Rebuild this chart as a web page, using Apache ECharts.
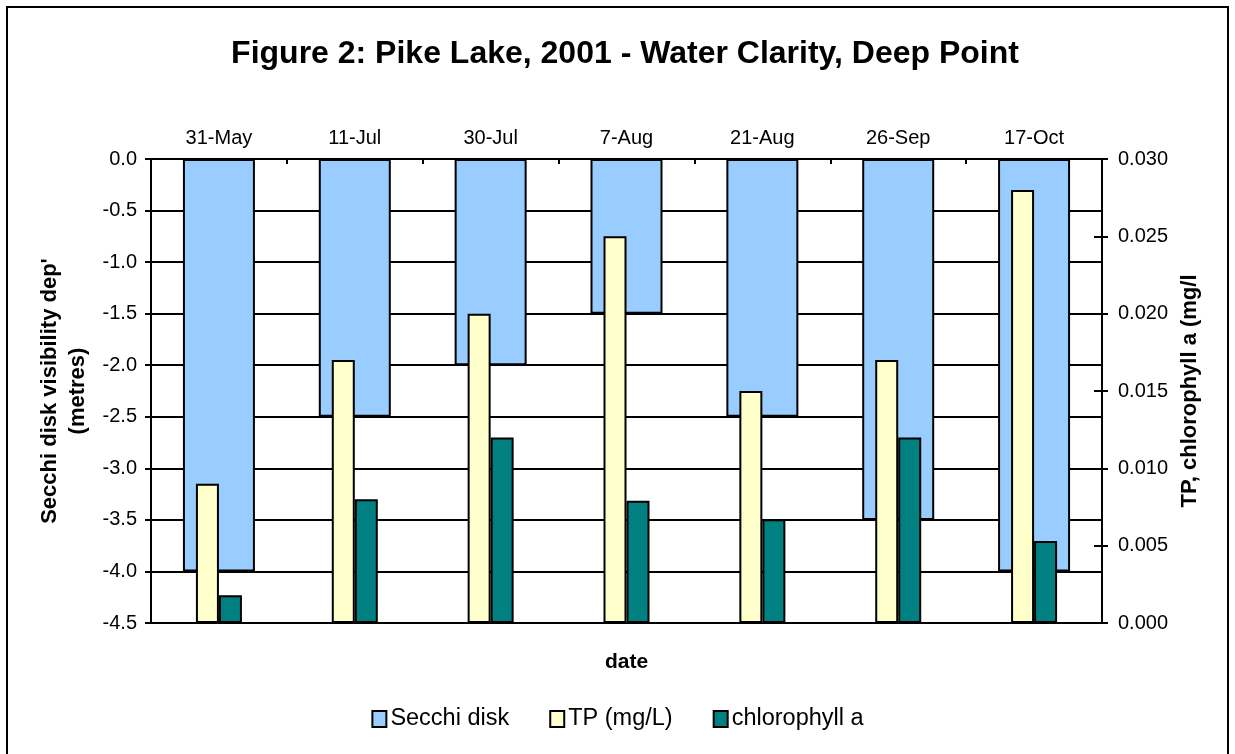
<!DOCTYPE html>
<html>
<head>
<meta charset="utf-8">
<title>Pike Lake 2001 - Water Clarity</title>
<script src="https://cdn.jsdelivr.net/npm/echarts@6/dist/echarts.min.js"></script>
<style>
  html, body { margin: 0; padding: 0; background: #ffffff; }
  #chart { width: 1235px; height: 754px; }
</style>
</head>
<body>
<div id="chart"></div>
<script>
// Sampling dates at the deep point
const categories = ['31-May', '11-Jul', '30-Jul', '7-Aug', '21-Aug', '26-Sep', '17-Oct'];
// Secchi disk visibility depth (metres, plotted as negative depth)
const secchi = [-4.0, -2.5, -2.0, -1.5, -2.5, -3.5, -4.0];
// Total phosphorus (mg/L)
const tp = [0.009, 0.017, 0.020, 0.025, 0.015, 0.017, 0.028];
// Chlorophyll a (mg/L)
const chlorophyll = [0.0018, 0.008, 0.012, 0.0079, 0.0067, 0.012, 0.0053];

const FONT = "'Liberation Sans', Arial, sans-serif";
const BLACK = '#000000';
const LW = 2;

const chart = echarts.init(document.getElementById('chart'), null, { renderer: 'canvas' });

const option = {
  animation: false,
  backgroundColor: '#ffffff',
  textStyle: { fontFamily: FONT, color: BLACK },
  graphic: [
    {
      type: 'rect',
      shape: { x: 7, y: 7, width: 1221, height: 770 },
      style: { fill: 'none', stroke: BLACK, lineWidth: 2 },
      silent: true
    },
    {
      type: 'text',
      x: 625,
      y: 54,
      style: {
        text: 'Figure 2: Pike Lake, 2001 - Water Clarity, Deep Point',
        font: 'bold 32px ' + FONT,
        fill: BLACK,
        align: 'center',
        verticalAlign: 'middle',
        textAlign: 'center',
        textVerticalAlign: 'middle'
      },
      silent: true
    }
  ],
  legend: {
    data: ['Secchi disk', 'TP (mg/L)', 'chlorophyll a'],
    left: 'center',
    top: 702,
    icon: 'rect',
    itemWidth: 14,
    itemHeight: 16,
    itemGap: 40,
    textStyle: { fontFamily: FONT, fontSize: 23.5, color: BLACK, padding: [0, 0, 0, -1] },
    itemStyle: { borderColor: BLACK, borderWidth: 2 }
  },
  grid: { left: 151, top: 159, right: 133, bottom: 131, containLabel: false },
  xAxis: [
    {
      type: 'category',
      data: categories,
      position: 'top',
      axisLine: { show: true, lineStyle: { color: BLACK, width: LW } },
      axisTick: { show: true, inside: true, length: 5, lineStyle: { color: BLACK, width: LW } },
      axisLabel: { color: BLACK, fontSize: 20, fontFamily: FONT, margin: 11 },
      splitLine: { show: false }
    },
    {
      type: 'category',
      data: categories,
      position: 'bottom',
      axisLine: { show: true, lineStyle: { color: BLACK, width: LW } },
      axisTick: { show: false },
      axisLabel: { show: false },
      splitLine: { show: false },
      name: 'date',
      nameLocation: 'middle',
      nameGap: 29,
      nameTextStyle: { fontFamily: FONT, fontSize: 21, fontWeight: 'bold', color: BLACK }
    }
  ],
  yAxis: [
    {
      type: 'value',
      position: 'left',
      min: -4.5,
      max: 0,
      interval: 0.5,
      axisLine: { show: true, lineStyle: { color: BLACK, width: LW } },
      axisTick: { show: true, length: 6, lineStyle: { color: BLACK, width: LW } },
      axisLabel: {
        color: BLACK, fontSize: 20, fontFamily: FONT, margin: 14,
        formatter: v => v.toFixed(1)
      },
      splitLine: { show: true, lineStyle: { color: BLACK, width: LW } },
      name: "Secchi disk visibility dep'\n(metres)",
      nameLocation: 'middle',
      nameRotate: 90,
      nameGap: 56,
      nameTextStyle: {
        fontFamily: FONT, fontSize: 22, fontWeight: 'bold', color: BLACK,
        lineHeight: 28, align: 'center'
      }
    },
    {
      type: 'value',
      position: 'right',
      min: 0,
      max: 0.03,
      interval: 0.005,
      axisLine: { show: true, lineStyle: { color: BLACK, width: LW } },
      axisTick: { show: true, length: 6, lineStyle: { color: BLACK, width: LW } },
      axisLabel: {
        color: BLACK, fontSize: 20, fontFamily: FONT, margin: 16,
        formatter: v => v.toFixed(3)
      },
      splitLine: { show: false },
      name: 'TP, chlorophyll a (mg/l',
      nameLocation: 'middle',
      nameRotate: 90,
      nameGap: 74,
      nameTextStyle: { fontFamily: FONT, fontSize: 22, fontWeight: 'bold', color: BLACK }
    },
    {
      // inner half of the crossing ticks on the right-hand axis
      type: 'value',
      position: 'right',
      min: 0,
      max: 0.03,
      interval: 0.005,
      axisLine: { show: false },
      axisTick: { show: true, inside: true, length: 8, lineStyle: { color: BLACK, width: LW } },
      axisLabel: { show: false },
      splitLine: { show: false }
    }
  ],
  series: [
    {
      name: 'Secchi disk',
      type: 'bar',
      xAxisIndex: 0,
      yAxisIndex: 0,
      data: secchi,
      barWidth: 72,
      itemStyle: { color: '#99CCFF', borderColor: BLACK, borderWidth: LW }
    },
    {
      name: 'TP (mg/L)',
      type: 'bar',
      xAxisIndex: 1,
      yAxisIndex: 1,
      data: tp,
      barWidth: 23,
      barGap: '0%',
      itemStyle: { color: '#FFFFCC', borderColor: BLACK, borderWidth: LW }
    },
    {
      name: 'chlorophyll a',
      type: 'bar',
      xAxisIndex: 1,
      yAxisIndex: 1,
      data: chlorophyll,
      barWidth: 23,
      barGap: '0%',
      itemStyle: { color: '#008080', borderColor: BLACK, borderWidth: LW }
    }
  ]
};

chart.setOption(option);
</script>
</body>
</html>
